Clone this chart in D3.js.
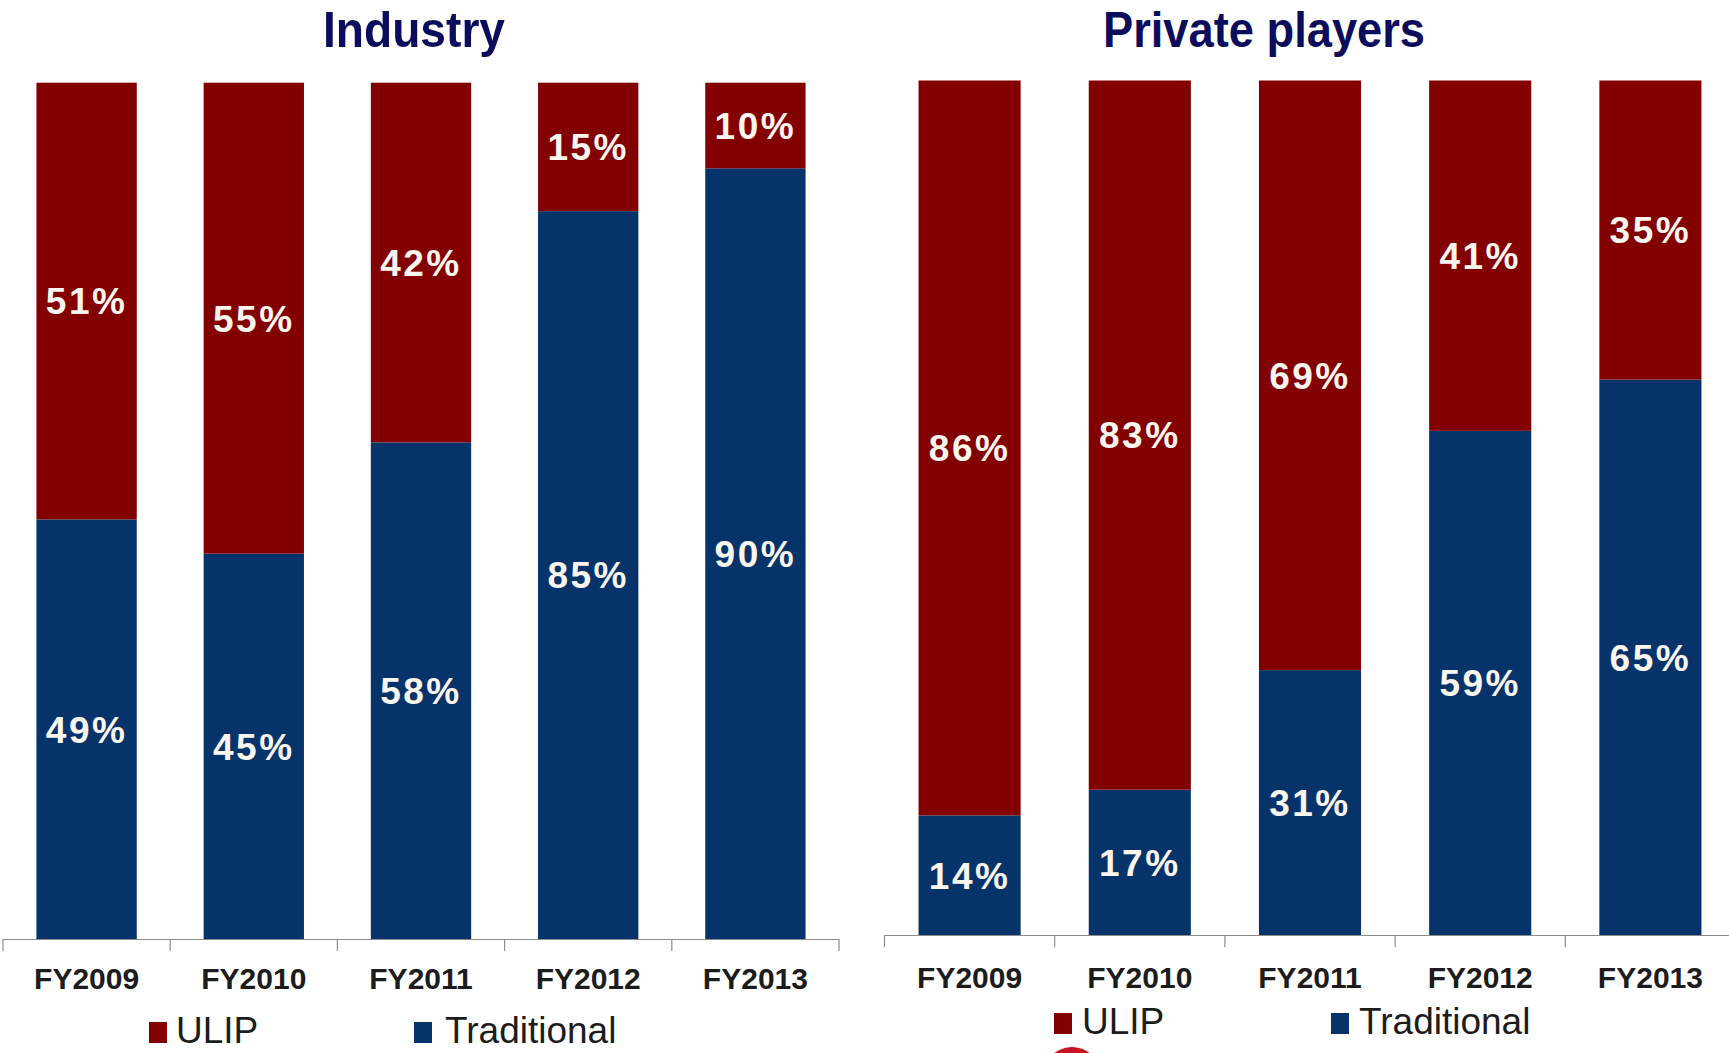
<!DOCTYPE html>
<html>
<head>
<meta charset="utf-8">
<script src="https://cdn.jsdelivr.net/npm/d3@7"></script>
<style>
  html, body { margin: 0; padding: 0; background: #ffffff; }
  svg { display: block; }
</style>
</head>
<body>
<svg id="chart" width="1729" height="1053"></svg>
<script>
// Premium mix: ULIP vs Traditional share, by fiscal year
const years = ["FY2009", "FY2010", "FY2011", "FY2012", "FY2013"];
const industryULIP = [51, 55, 42, 15, 10];
const industryTraditional = [49, 45, 58, 85, 90];
const privateULIP = [86, 83, 69, 41, 35];
const privateTraditional = [14, 17, 31, 59, 65];
const seriesNames = ["ULIP", "Traditional"];

const colors = { ULIP: "#820000", Traditional: "#05336a" };

const svg = d3.select("#chart");

function buildRows(ulip, trad) {
  return years.map((y, i) => ({ year: y, ULIP: ulip[i], Traditional: trad[i] }));
}

const panels = [
  {
    title: "Industry", titleX: 414, titleLen: 182,
    rows: buildRows(industryULIP, industryTraditional),
    x0: 3, x1: 839, yTop: 82.7, yBase: 939,
    labelBase: 989,
    legend: { y: 1022, base: 1043, ulipSq: 149, ulipText: 176, tradSq: 414, tradText: 445 }
  },
  {
    title: "Private players", titleX: 1264, titleLen: 322,
    rows: buildRows(privateULIP, privateTraditional),
    x0: 884.5, x1: 1735.5, yTop: 80.5, yBase: 935,
    labelBase: 988,
    legend: { y: 1013, base: 1034, ulipSq: 1054, ulipText: 1082, tradSq: 1331, tradText: 1359 }
  }
];

const stack = d3.stack().keys(["Traditional", "ULIP"]);

panels.forEach(p => {
  const g = svg.append("g");

  const x = d3.scaleBand().domain(years).range([p.x0, p.x1])
    .paddingInner(0.4).paddingOuter(0.2);
  const y = d3.scaleLinear().domain([0, 100]).range([p.yBase, p.yTop]);

  // panel title
  g.append("text")
    .attr("x", p.titleX).attr("y", 47)
    .attr("text-anchor", "middle")
    .attr("font-family", "'Liberation Sans Narrow', 'Arial Narrow', 'Liberation Sans', Arial, sans-serif")
    .attr("font-weight", "bold")
    .attr("font-size", 50)
    .attr("textLength", p.titleLen)
    .attr("lengthAdjust", "spacingAndGlyphs")
    .attr("fill", "#0c0c5c")
    .text(p.title);

  const layers = stack(p.rows);

  const layer = g.selectAll("g.layer").data(layers).join("g")
    .attr("class", "layer")
    .attr("fill", d => colors[d.key]);

  layer.selectAll("rect").data(d => d).join("rect")
    .attr("x", d => x(d.data.year))
    .attr("width", x.bandwidth())
    .attr("y", d => y(d[1]))
    .attr("height", d => y(d[0]) - y(d[1]));

  // value labels centred in each segment
  layer.selectAll("text").data(d => d.map(v => ({ v, key: d.key }))).join("text")
    .attr("x", d => x(d.v.data.year) + x.bandwidth() / 2)
    .attr("y", d => (y(d.v[0]) + y(d.v[1])) / 2)
    .attr("dy", "0.36em")
    .attr("text-anchor", "middle")
    .attr("font-family", "'Liberation Sans', Arial, sans-serif")
    .attr("font-weight", "bold")
    .attr("font-size", 37)
    .attr("letter-spacing", 2.5)
    .attr("fill", "#fbf6f0")
    .text(d => d.v.data[d.key] + "%");

  // baseline with tick marks between categories
  const step = x.step();
  const half = step * x.paddingInner() / 2;
  const tickXs = years.map(yr => x(yr) - half).concat([x(years[years.length - 1]) + x.bandwidth() + half]);

  g.append("line")
    .attr("x1", p.x0).attr("x2", p.x1)
    .attr("y1", p.yBase + 0.5).attr("y2", p.yBase + 0.5)
    .attr("stroke", "#8c8c8c").attr("stroke-width", 1.2);

  g.selectAll("line.tick").data(tickXs).join("line")
    .attr("class", "tick")
    .attr("x1", d => d).attr("x2", d => d)
    .attr("y1", p.yBase).attr("y2", p.yBase + 12)
    .attr("stroke", "#8c8c8c").attr("stroke-width", 1.2);

  // category labels
  const axis = d3.axisBottom(x).tickSize(0).tickPadding(0);
  const ax = g.append("g")
    .attr("transform", `translate(0,${p.labelBase})`)
    .call(axis);
  ax.select(".domain").remove();
  ax.selectAll("text")
    .attr("dy", 0)
    .attr("y", 0)
    .attr("font-family", "'Liberation Sans', Arial, sans-serif")
    .attr("font-weight", "bold")
    .attr("font-size", 30)
    .attr("fill", "#1c1c1c");

  // legend
  const L = p.legend;
  const legendItems = [
    { name: seriesNames[0], sq: L.ulipSq, tx: L.ulipText },
    { name: seriesNames[1], sq: L.tradSq, tx: L.tradText }
  ];
  const lg = g.selectAll("g.legend").data(legendItems).join("g").attr("class", "legend");
  lg.append("rect")
    .attr("x", d => d.sq).attr("y", L.y)
    .attr("width", 18).attr("height", 21)
    .attr("fill", d => colors[d.name]);
  lg.append("text")
    .attr("x", d => d.tx).attr("y", L.base)
    .attr("font-family", "'Liberation Sans', Arial, sans-serif")
    .attr("font-size", 37)
    .attr("fill", "#1c1c1c")
    .text(d => d.name);
});

// edge of a red logo mark at the bottom of the page
svg.append("path")
  .attr("d", d3.arc()({ innerRadius: 22, outerRadius: 29, startAngle: -1.0, endAngle: 1.2 }))
  .attr("transform", "translate(1072,1076)")
  .attr("fill", "#c8141e");
</script>
</body>
</html>
